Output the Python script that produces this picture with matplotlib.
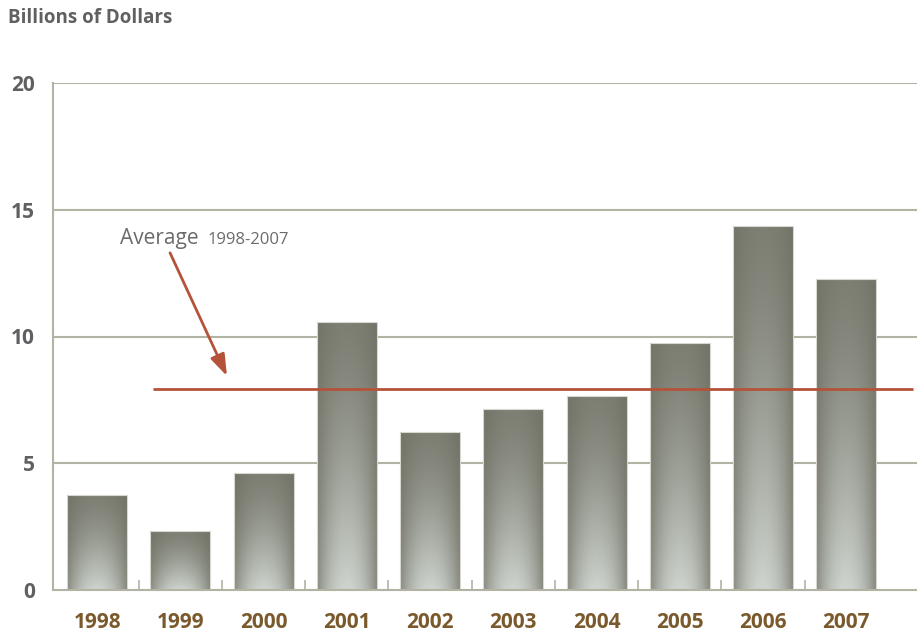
import numpy as np
import matplotlib
matplotlib.use("Agg")
from matplotlib import pyplot as plt
from matplotlib.patches import Rectangle

plt.rcParams['font.family'] = ['Open Sans', 'DejaVu Sans']

# data
years = ['1998', '1999', '2000', '2001', '2002', '2003', '2004', '2005', '2006', '2007']
values = [3.75, 2.33, 4.6, 10.57, 6.22, 7.13, 7.65, 9.74, 14.36, 12.26]
average = 7.93
y_ticks = [0, 5, 10, 15, 20]

grid_col = '#b3b3a3'
red = '#b5533a'

fig = plt.figure(figsize=(9.17, 6.39), dpi=100)
ax = fig.add_axes([53/917, 1-590/639, 1-53/917, (590-83)/639])

# gradient texture for a bar: dark top, light bottom, lighter in the middle
rows, cols = 200, 80
t = np.linspace(0, 1, rows)[:, None]
u = np.linspace(0, 1, cols)[None, :]
h = 1 - np.abs(2*u - 1)**2
v = t**1.4
L = np.clip(0.12*h + v*(0.25 + 0.65*h), 0, 1)
dark = np.array([0x73, 0x74, 0x68]) / 255
light = np.array([0xcc, 0xd2, 0xcc]) / 255
grad = dark[None, None, :] + (light - dark)[None, None, :] * L[:, :, None]

width = 0.72
x = np.arange(len(years))
for xi, val in zip(x, values):
    rect = Rectangle((xi - width/2, 0), width, val, facecolor='none',
                     edgecolor='#d8d8d0', linewidth=0.8, zorder=3)
    ax.add_patch(rect)
    im = ax.imshow(grad, extent=(xi - width/2, xi + width/2, 0, val),
                   aspect='auto', origin='upper', zorder=2, interpolation='bilinear')
    im.set_clip_path(rect)

# average line with annotation
ax.plot([0.67, 9.8], [average, average], color=red, lw=2, zorder=4, solid_capstyle='butt')
ax.annotate('', xy=(1.56, 8.44), xytext=(0.876, 13.3),
            arrowprops=dict(arrowstyle='-|>,head_length=1.3,head_width=0.45',
                            color=red, lw=2, shrinkA=0, shrinkB=0), zorder=5)
ax.text(0.276, 13.64, 'Average', fontsize=15, color='#6b6b6b', va='baseline', ha='left')
ax.text(1.33, 13.64, '1998-2007', fontsize=12, color='#6b6b6b', va='baseline', ha='left')

ax.set_xlim(-0.53, 9.85)
ax.set_ylim(0, 20)

ax.set_yticks(y_ticks)
ax.set_yticklabels([str(v) for v in y_ticks], fontsize=15, fontweight='bold', color='#5f6062')
ax.tick_params(axis='y', length=0, pad=13)
for yv in y_ticks[1:]:
    ax.axhline(yv, color=grid_col, lw=1.5, zorder=1)

ax.set_xticks(x)
ax.set_xticklabels(years, fontsize=15, fontweight='bold', color='#7a5a2c')
ax.tick_params(axis='x', which='major', length=0, pad=16)
ax.set_xticks(x[:-1] + 0.5, minor=True)
ax.tick_params(axis='x', which='minor', direction='in', length=7, width=1.2, color=grid_col)

for side in ['top', 'right']:
    ax.spines[side].set_visible(False)
for side in ['left', 'bottom']:
    ax.spines[side].set_color(grid_col)
    ax.spines[side].set_linewidth(1.5)
ax.spines['bottom'].set_zorder(6)

fig.text(8/917, 1-18/639, 'Billions of Dollars', fontsize=13.5, fontweight='bold',
         color='#606060', va='center', ha='left')

fig.savefig('out.png', dpi=100)
